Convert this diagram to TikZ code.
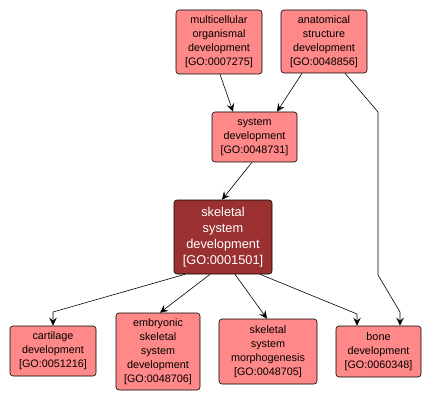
\documentclass[tikz,border=0pt]{standalone}
\usepackage{fontspec}
\setmainfont{Liberation Sans}
\usetikzlibrary{arrows.meta}
\definecolor{termfill}{RGB}{255,136,136}
\definecolor{focusfill}{RGB}{155,48,48}
\begin{document}
\begin{tikzpicture}[x=1pt,y=1pt,
  term/.style={draw=black, line width=0.6pt, fill=termfill, rounded corners=3pt,
    inner sep=0pt, align=center, font=\fontsize{10.8}{14}\selectfont, text=black},
  focus/.style={term, fill=focusfill, text=white, font=\fontsize{12.8}{15.8}\selectfont},
  link/.style={draw=black, line width=0.6pt, -{Stealth[length=8pt,width=7.5pt,inset=3pt]}}]
\useasboundingbox (0,0) rectangle (433,402);
\node[term, minimum width=86pt, minimum height=64pt] (mc) at (219,360) {multicellular\\organismal\\development\\{[GO:0007275]}};
\node[term, minimum width=86pt, minimum height=63pt] (an) at (324,360.5) {anatomical\\structure\\development\\{[GO:0048856]}};
\node[term, minimum width=85pt, minimum height=50pt] (sys) at (254.5,265) {system\\development\\{[GO:0048731]}};
\node[focus, minimum width=98pt, minimum height=74pt] (sk) at (223,165) {skeletal\\system\\development\\{[GO:0001501]}};
\node[term, minimum width=86pt, minimum height=50pt] (cart) at (53,51) {cartilage\\development\\{[GO:0051216]}};
\node[term, minimum width=84pt, minimum height=77pt] (emb) at (158,50.5) {embryonic\\skeletal\\system\\development\\{[GO:0048706]}};
\node[term, minimum width=98pt, minimum height=65pt] (morph) at (268,50.5) {skeletal\\system\\morphogenesis\\{[GO:0048705]}};
\node[term, minimum width=85pt, minimum height=51pt] (bone) at (378.5,50.5) {bone\\development\\{[GO:0060348]}};
\coordinate (b1) at (378,290);
\coordinate (b2) at (378,127);
\coordinate (b3) at (400,90);
\coordinate (c1) at (53,90);
\coordinate (d1) at (357,88);
\draw[link] ([xshift=1pt]mc.south) -- ([xshift=-21.5pt]sys.north);
\draw[link] ([xshift=-22pt]an.south) -- ([xshift=22.5pt]sys.north);
\draw[link] ([xshift=21pt]an.south) -- (b1) -- (b2) -- (b3) -- ([xshift=21.5pt]bone.north);
\draw[link] ([xshift=-2.5pt]sys.south) -- ([xshift=-1pt]sk.north);
\draw[link] ([xshift=-38pt]sk.south) -- (c1) -- (cart.north);
\draw[link] ([xshift=-13pt]sk.south) -- ([xshift=2pt]emb.north);
\draw[link] ([xshift=12pt]sk.south) -- ([xshift=-1pt]morph.north);
\draw[link] ([xshift=37pt]sk.south) -- (d1) -- ([xshift=-21.5pt]bone.north);
\end{tikzpicture}
\end{document}
